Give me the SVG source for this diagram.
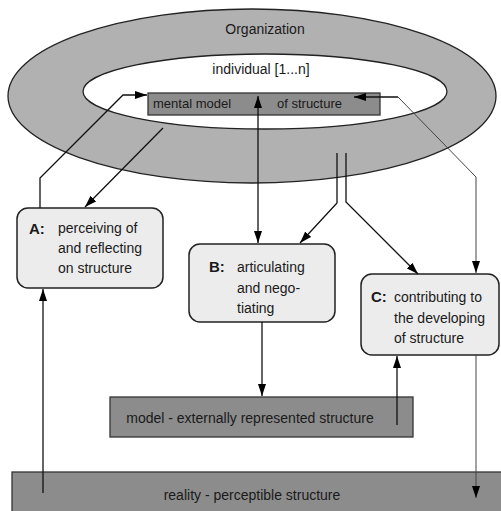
<svg xmlns="http://www.w3.org/2000/svg" width="501" height="511" viewBox="0 0 501 511">
<style>
text{font-family:"Liberation Sans",Arial,sans-serif;font-size:14px;fill:#1a1a1a}
.b{font-weight:bold;font-size:15px}
.c{stroke:#111;stroke-width:1.3;fill:none}
.g{stroke:#444;stroke-width:1;fill:none}
.box{fill:#ececec;stroke:#222;stroke-width:1.5}
.rect{fill:#8c8c8c;stroke:#333;stroke-width:1.3}
</style>
<defs>
<marker id="ah" viewBox="0 0 12 8" refX="12" refY="4" markerWidth="12" markerHeight="8" markerUnits="userSpaceOnUse" orient="auto">
<path d="M0,0 L12,4 L0,8 Z" fill="#000"/>
</marker>
</defs>
<g id="organization">
<ellipse cx="252" cy="96" rx="244" ry="87" fill="#b1b1b1" stroke="#222" stroke-width="1.3"/>
<text x="265" y="34" text-anchor="middle">Organization</text>
</g>
<g id="individual">
<ellipse cx="265" cy="91.5" rx="182" ry="37.5" fill="#fff" stroke="#222" stroke-width="1.3"/>
<text x="261" y="74" text-anchor="middle">individual [1...n]</text>
</g>
<g id="mental-model">
<rect class="rect" x="148" y="93" width="232" height="22"/>
<text x="153" y="108" style="font-size:13px">mental model</text>
<text x="277" y="108" style="font-size:13px">of structure</text>
</g>
<g id="A">
<rect class="box" x="17" y="208" width="146" height="80" rx="11"/>
<text class="b" x="29" y="234">A:</text>
<text x="58" y="233">perceiving of</text>
<text x="58" y="253">and reflecting</text>
<text x="58" y="273">on structure</text>
</g>
<g id="B">
<rect class="box" x="189" y="244" width="146" height="78" rx="11"/>
<text class="b" x="209" y="272">B:</text>
<text x="237" y="272">articulating</text>
<text x="237" y="293">and nego-</text>
<text x="237" y="313">tiating</text>
</g>
<g id="C">
<rect class="box" x="361" y="274" width="138" height="81" rx="11"/>
<text class="b" x="371" y="302">C:</text>
<text x="394" y="302">contributing to</text>
<text x="394" y="323">the developing</text>
<text x="394" y="343">of structure</text>
</g>
<g id="model">
<rect class="rect" x="110" y="397" width="303" height="40"/>
<text x="250" y="423" text-anchor="middle">model - externally represented structure</text>
</g>
<g id="reality">
<rect class="rect" x="12" y="472" width="495" height="45"/>
<text x="252" y="500" text-anchor="middle">reality - perceptible structure</text>
</g>
<g id="connectors">
<polyline class="c" points="40,208 40,178 123,95 147,95" marker-end="url(#ah)"/>
<line class="c" x1="163" y1="128" x2="85" y2="207" marker-end="url(#ah)"/>
<line class="c" x1="258" y1="150" x2="258" y2="96" marker-end="url(#ah)"/>
<line class="c" x1="258" y1="150" x2="258" y2="243" marker-end="url(#ah)"/>
<polyline class="g" points="398,97 476,177 476,273" marker-end="url(#ah)"/>
<line class="c" x1="398" y1="97" x2="354" y2="97" marker-end="url(#ah)"/>
<polyline class="c" points="337,153 337,203 300,243" marker-end="url(#ah)"/>
<polyline class="c" points="346,153 346,202 418,274" marker-end="url(#ah)"/>
<line class="c" x1="262" y1="322" x2="262" y2="396" marker-end="url(#ah)"/>
<line class="c" x1="397" y1="425" x2="397" y2="356" marker-end="url(#ah)"/>
<line class="c" x1="43" y1="493" x2="43" y2="289" marker-end="url(#ah)"/>
<line class="g" x1="476" y1="355" x2="476" y2="498" marker-end="url(#ah)"/>
</g>
</svg>
